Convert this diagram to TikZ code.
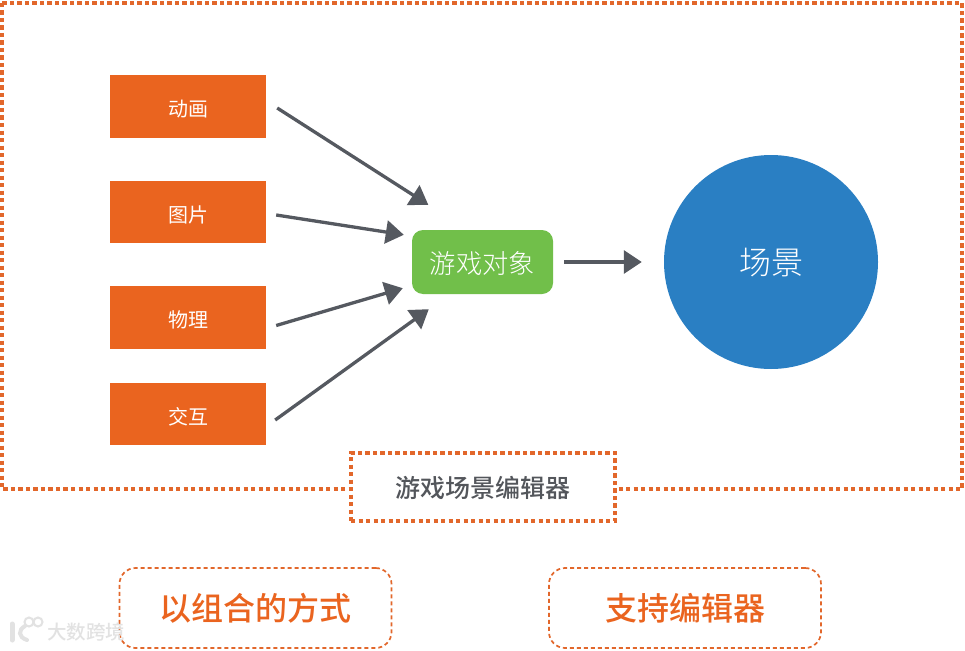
\documentclass[tikz,border=0pt]{standalone}
\usepackage{fontspec}
\setmainfont{Noto Sans CJK SC}
\newfontfamily\cjklight{Noto Sans CJK SC Light}
\newfontfamily\cjkmed{Noto Sans CJK SC Medium}
\usetikzlibrary{arrows.meta,calc}
\definecolor{orangebox}{HTML}{EA641F}
\definecolor{dashor}{HTML}{E2672B}
\definecolor{greenbox}{HTML}{71BF4A}
\definecolor{bluecirc}{HTML}{2A7FC3}
\definecolor{arrowgray}{HTML}{555960}
\definecolor{labelgray}{HTML}{53565B}
\definecolor{wm}{HTML}{E2E2E2}
\newcommand{\dropped}[2]{\raisebox{0pt}[\dimexpr\height+#1pt*2\relax][\depth]{#2}}
\tikzset{
  x=1pt,y=-1pt,
  sourcebox/.style={fill=orangebox,minimum width=156pt,minimum height=62.5pt,inner sep=0pt,text=white,font=\fontsize{20}{24}\selectfont},
  objbox/.style={fill=greenbox,rounded corners=11pt,minimum width=141pt,minimum height=64pt,inner sep=0pt,text=white,font=\cjklight\fontsize{26.3}{30}\selectfont},
  scenecirc/.style={circle,fill=bluecirc,minimum size=214pt,inner sep=0pt,text=white,font=\cjklight\fontsize{32}{36}\selectfont},
  outerdash/.style={draw=dashor,line width=4.5pt,dash pattern=on 4.2pt off 3.3pt},
  notebox/.style={draw=dashor,line width=1.7pt,dash pattern=on 4pt off 3pt,rounded corners=16pt,minimum height=80pt,inner sep=0pt,text=orangebox,font=\cjkmed\fontsize{32}{36}\selectfont},
  flow/.style={draw=arrowgray,line width=3.3pt,-{Triangle[length=18pt,width=23pt]}},
}
\begin{document}
\begin{tikzpicture}
\useasboundingbox (0,0) rectangle (965,650);
\fill[white] (0,0) rectangle (965,650);
% outer frame
\coordinate (ftl) at (2,3);
\coordinate (fbr) at (962,489);
\draw[outerdash] (ftl) rectangle (fbr);
% sources
\node[sourcebox] (anim) at (188,106.5) {\dropped{2.5}{动画}};
\node[sourcebox] (pic) at (188,212) {\dropped{2.5}{图片}};
\node[sourcebox] (phys) at (188,317.5) {\dropped{2.5}{物理}};
\node[sourcebox] (inter) at (188,414) {\dropped{2.5}{交互}};
\node[objbox] (obj) at (482.5,262) {\dropped{2}{游戏对象}};
\node[scenecirc] (scene) at (771,262) {\dropped{1}{场景}};
% label
\node[fill=white,outerdash,minimum width=264pt,minimum height=68pt,inner sep=0pt,text=labelgray,font=\cjkmed\fontsize{25}{29}\selectfont] (editor) at (483,487) {\dropped{1}{游戏场景编辑器}};
% notes
\node[notebox,minimum width=272pt] (n1) at (255.5,608) {以组合的方式};
\node[notebox,minimum width=272pt] (n2) at (685,608) {支持编辑器};
% arrows
\coordinate (a1) at ($(anim.east)+(11,1.5)$);
\coordinate (a2) at ($(pic.east)+(10,3)$);
\coordinate (a3) at ($(phys.east)+(10,8)$);
\coordinate (a4) at ($(inter.east)+(9,6)$);
\coordinate (t1) at ($(obj.north west)+(16.5,-25)$);
\coordinate (t2) at ($(obj.north west)+(-8,5)$);
\coordinate (t3) at ($(obj.south west)+(-9,-6)$);
\coordinate (t4) at ($(obj.south west)+(17,15)$);
\coordinate (a5) at ($(obj.east)+(11,0)$);
\coordinate (t5) at ($(scene.west)+(-22,0)$);
\draw[flow] (a1) -- (t1);
\draw[flow] (a2) -- (t2);
\draw[flow] (a3) -- (t3);
\draw[flow] (a4) -- (t4);
\draw[flow] (a5) -- (t5);
% watermark
\draw[wm,line width=5pt,line cap=round] (12,624) -- (12,640);
\draw[wm,line width=4pt,line cap=round] (25,626) .. controls (18,630) and (18,637) .. (27,640);
\draw[wm,line width=2pt] (29,622) circle (4.5);
\draw[wm,line width=2pt] (38,622) circle (4.5);
\node[inner sep=0pt,text=wm,font=\cjkmed\fontsize{19.5}{22}\selectfont] (mark) at (86,632.5) {大数跨境};
\end{tikzpicture}
\end{document}
